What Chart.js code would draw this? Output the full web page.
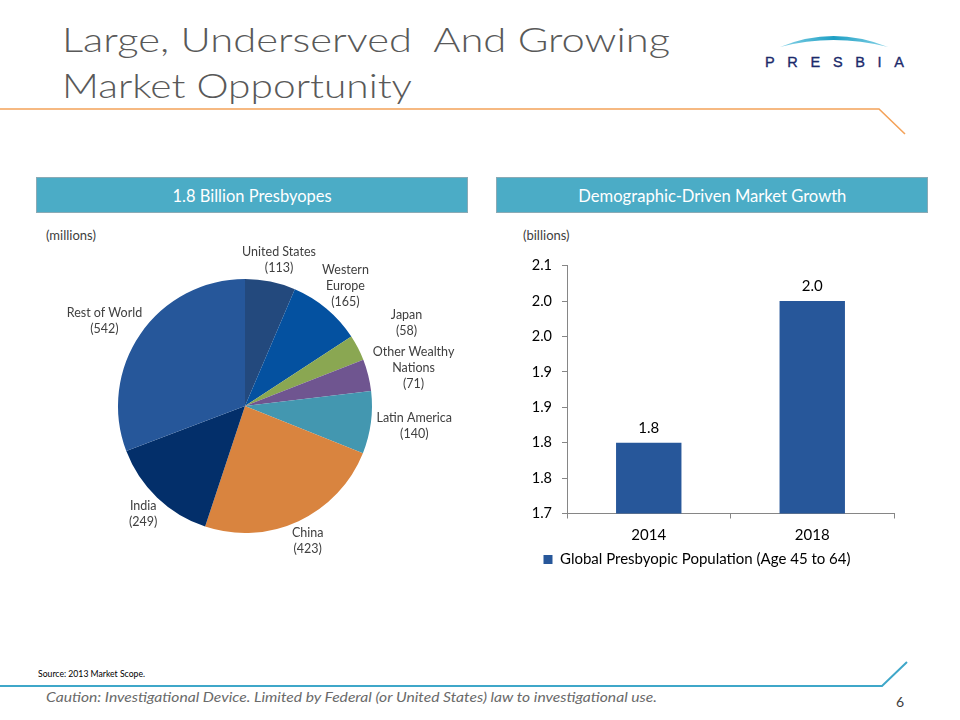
<!DOCTYPE html>
<html><head><meta charset="utf-8">
<script src="https://cdn.jsdelivr.net/npm/chart.js@4/dist/chart.umd.min.js"></script>
<style>
html,body{margin:0;padding:0;background:#fff;}
#page{position:relative;width:960px;height:720px;overflow:hidden;font-family:Lato,"Open Sans",sans-serif;}
.t{position:absolute;white-space:nowrap;line-height:1;transform-origin:left center;}
.title{left:62px;font-weight:300;font-size:34px;color:#595959;}
.hdr{position:absolute;top:177px;height:36px;background:#4BACC6;border:1px solid #8AAAB5;box-sizing:border-box;color:#fff;font-size:17px;display:flex;align-items:center;justify-content:center;}
.hdr span{display:inline-block;white-space:nowrap;transform-origin:center center;line-height:1;}
canvas{position:absolute;}
</style></head>
<body>
<div id="page">
  <svg width="960" height="720" style="position:absolute;left:0;top:0">
    <defs>
      <linearGradient id="arcg" x1="0" x2="1" y1="0" y2="0">
        <stop offset="0" stop-color="#8AD4E8"/>
        <stop offset="0.5" stop-color="#1E9FC4"/>
        <stop offset="1" stop-color="#8AD4E8"/>
      </linearGradient>
    </defs>
    <polyline points="0,109 879,109 905,134" fill="none" stroke="#F4A259" stroke-width="1.6"/>
    <polyline points="0,686 882,686 907,662" fill="none" stroke="#3FA7C9" stroke-width="2"/>
    <path d="M780,47 Q833,25 888,47 Q833,33 780,47 Z" fill="url(#arcg)"/>
    <text x="765" y="66.5" font-family="Liberation Sans, Arial, sans-serif" font-size="14.5" fill="#1B2A6B" stroke="#1B2A6B" stroke-width="0.35" textLength="139" lengthAdjust="spacing">PRESBIA</text>
  </svg>
  <div class="t title" style="top:22px" data-w="608">Large, Underserved&nbsp; And Growing</div>
  <div class="t title" style="top:68px" data-w="350">Market Opportunity</div>

  <div class="hdr" style="left:36px;width:432px"><span data-w="159">1.8 Billion Presbyopes</span></div>
  <div class="hdr" style="left:496px;width:432px"><span data-w="268">Demographic-Driven Market Growth</span></div>

  <div class="t" style="left:46px;top:229px;font-size:13px;color:#404040">(millions)</div>
  <div class="t" style="left:523px;top:229px;font-size:13px;color:#404040">(billions)</div>

  <canvas id="pie" width="432" height="320" style="left:36px;top:240px;width:432px;height:320px"></canvas>
  <canvas id="bar" width="430" height="333" style="left:500px;top:247px;width:430px;height:333px"></canvas>

  <div class="t" style="left:38px;top:669px;font-size:9px;color:#000" data-w="107">Source: 2013 Market Scope.</div>
  <div class="t" style="left:46px;top:690px;font-size:14px;font-style:italic;color:#6A6A6A" data-w="611">Caution: Investigational Device. Limited by Federal (or United States) law to investigational use.</div>
  <div class="t" style="left:896px;top:695px;font-size:14px;color:#404040">6</div>
</div>
<script>
// ---- data ----
const pieCategories = ['United States',['Western','Europe'],'Japan',['Other Wealthy','Nations'],'Latin America','China','India','Rest of World'];
const pieValues = [113,165,58,71,140,423,249,542];
const pieColors = ['#23497D','#0451A0','#8AA752','#6F5590','#4397B0','#D9843F','#032F6A','#26579A'];

const barCategories = ['2014','2018'];
const barValues = [1.8, 2.0];
const barSeriesName = 'Global Presbyopic Population (Age 45 to 64)';
const yTickLabels = ['1.7','1.8','1.8','1.9','1.9','2.0','2.0','2.1'];

// ---- fit html text widths ----
document.querySelectorAll('[data-w]').forEach(el=>{
  const w = el.getBoundingClientRect().width;
  if (w>0) el.style.transform = 'scaleX(' + (+el.dataset.w / w) + ')';
});

const pieLabelPlugin = {
  id:'pieLabels',
  afterDraw(chart){
    const ctx = chart.ctx, meta = chart.getDatasetMeta(0);
    const vals = chart.data.datasets[0].data;
    ctx.save();
    ctx.font = '12.5px Lato, "Open Sans", sans-serif';
    ctx.fillStyle = '#404040'; ctx.textAlign='center'; ctx.textBaseline='middle';
    const lh = 16, gap = 6, margin = 5;
    // place labels of larger slices first, push smaller ones outward on collision
    const order = vals.map((v,i)=>i).sort((a,b)=>vals[b]-vals[a]);
    const placed = [];
    order.forEach(i=>{
      const arc = meta.data[i];
      const p = arc.getProps(['x','y','startAngle','endAngle','outerRadius'], true);
      const mid = (p.startAngle + p.endAngle)/2, ux=Math.cos(mid), uy=Math.sin(mid);
      const name = chart.data.labels[i];
      const lines = (Array.isArray(name) ? name.slice() : [name]).concat(['(' + vals[i] + ')']);
      const w = Math.max(...lines.map(l=>ctx.measureText(l).width)), h = lines.length*lh;
      let d = p.outerRadius + gap, box;
      for (let it=0; it<200; it++){
        const cx = p.x + ux*d + ux*w/2, cy = p.y + uy*d + uy*h/2;
        box = {cx, cy, x1:cx-w/2, x2:cx+w/2, y1:cy-h/2, y2:cy+h/2};
        const hit = placed.some(b=> box.x1 < b.x2+margin && box.x2 > b.x1-margin && box.y1 < b.y2+margin && box.y2 > b.y1-margin);
        if (!hit) break;
        d += 1;
      }
      placed.push(box);
      lines.forEach((l,k)=>ctx.fillText(l, box.cx, box.cy - h/2 + lh/2 + k*lh));
    });
    ctx.restore();
  }
};

new Chart(document.getElementById('pie'), {
  type:'pie',
  data:{labels:pieCategories, datasets:[{data:pieValues, backgroundColor:pieColors, borderWidth:0}]},
  options:{
    responsive:false, animation:false,
    layout:{padding:{left:82,right:96,top:39,bottom:27}},
    plugins:{legend:{display:false}, tooltip:{enabled:false}}
  },
  plugins:[pieLabelPlugin]
});

const barLabelPlugin = {
  id:'barLabels',
  afterDatasetsDraw(chart){
    const ctx = chart.ctx, meta = chart.getDatasetMeta(0);
    ctx.save();
    ctx.font = '15px Lato, "Open Sans", sans-serif';
    ctx.fillStyle = '#000'; ctx.textAlign='center'; ctx.textBaseline='bottom';
    meta.data.forEach((bar,i)=>{
      ctx.fillText(chart.data.datasets[0].data[i].toFixed(1), bar.x, bar.y - 7);
    });
    ctx.restore();
  }
};

new Chart(document.getElementById('bar'), {
  type:'bar',
  data:{labels:barCategories, datasets:[{label:barSeriesName, data:barValues, backgroundColor:'#27579A', categoryPercentage:1, barPercentage:0.4}]},
  options:{
    responsive:false, animation:false,
    layout:{padding:{top:6,right:36,left:0,bottom:3}},
    scales:{
      y:{min:1.7, max:2.05,
         ticks:{stepSize:0.05, padding:10, color:'#000', font:{family:'Lato',size:14.5}, callback:(v,i)=>yTickLabels[i]},
         grid:{drawOnChartArea:false, drawTicks:true, tickLength:5, color:'#868686'},
         border:{color:'#868686'},
         afterFit(s){ s.width = 67; }},
      x:{ticks:{padding:8, color:'#000', font:{family:'Lato',size:15}},
         grid:{drawOnChartArea:false, drawTicks:true, tickLength:5, color:'#868686', offset:true},
         border:{color:'#868686'},
         afterFit(s){ s.height = 32; }}
    },
    plugins:{
      legend:{position:'bottom', labels:{boxWidth:9, boxHeight:9, padding:6.5, color:'#000', font:{family:'Lato',size:15}}},
      tooltip:{enabled:false}
    }
  },
  plugins:[barLabelPlugin]
});
</script>
</body></html>
